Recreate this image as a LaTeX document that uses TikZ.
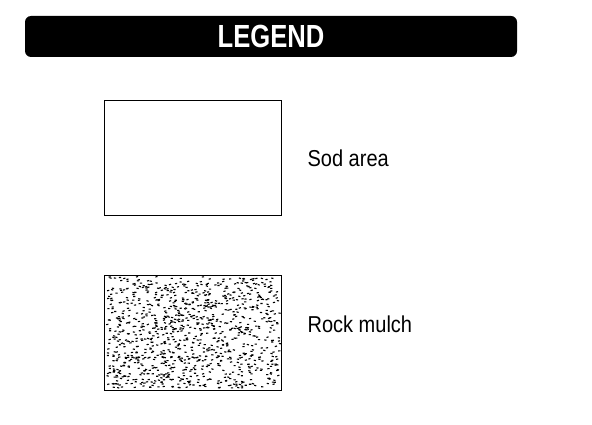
\documentclass[tikz,border=0pt]{standalone}
\usepackage{fontspec}
\setmainfont{Liberation Sans}
\usetikzlibrary{positioning}

\begin{document}
\begin{tikzpicture}[
  x=1pt, y=-1pt,
  banner/.style={fill=black, rounded corners=6pt, minimum width=492pt, minimum height=41pt, inner sep=0pt},
  swatch/.style={draw, line width=0.8pt, minimum width=177pt, minimum height=115pt, inner sep=0pt},
  lbl/.style={anchor=west, inner sep=0pt, font=\fontsize{23}{27}\selectfont}
]
  \useasboundingbox (0,0) rectangle (592,425);

  \node[banner] (head) at (271,36.5) {};
  \node[text=white, font=\fontsize{32}{35}\selectfont\bfseries] (title) at (head.center) {\scalebox{0.8}[1]{LEGEND}};

  \node[swatch] (sod) at (192.5,158) {};
  \node[lbl, right=26pt of sod.east] (sodlbl) {\scalebox{0.87}[1]{Sod area}};

  \node[swatch] (rock) at (192.5,332.5) {};
  \node[lbl, right=26pt of rock.east, yshift=8pt] (rocklbl) {\scalebox{0.87}[1]{Rock mulch}};

  % stipple for the rock mulch
  \pgfmathsetseed{4213}
  \foreach \i in {1,...,1050}{
    \pgfmathsetmacro\px{106+173*rnd}
    \pgfmathsetmacro\py{277+111*rnd}
    \pgfmathsetmacro\pa{-20+40*rnd}
    \draw[line width=1.1pt] (\px,\py) -- ++(\pa:2.2);
  }
  \node[swatch] at (rock.center) {};
\end{tikzpicture}
\end{document}
